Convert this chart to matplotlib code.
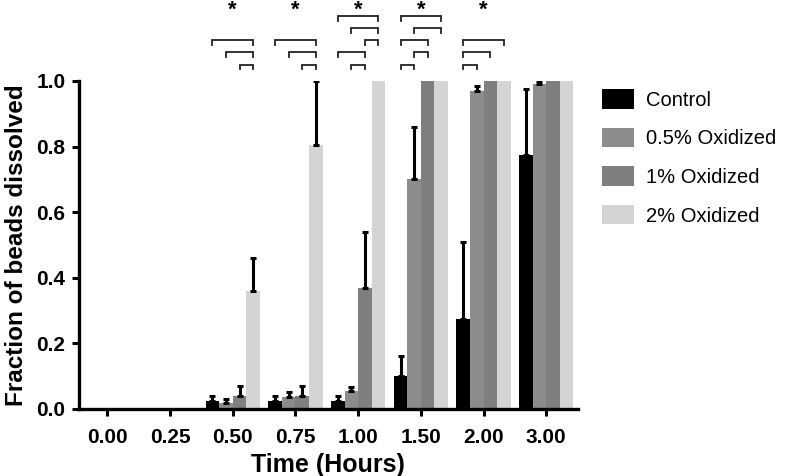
import matplotlib
matplotlib.use("Agg")
import matplotlib.pyplot as plt
import numpy as np

plt.rcParams['font.family'] = ['Liberation Sans', 'DejaVu Sans']

times = ["0.00", "0.25", "0.50", "0.75", "1.00", "1.50", "2.00", "3.00"]
series = ["Control", "0.5% Oxidized", "1% Oxidized", "2% Oxidized"]
colors = ["#000000", "#8c8c8c", "#7f7f7f", "#d4d4d4"]

control = [0.0, 0.0, 0.025, 0.025, 0.025, 0.10, 0.275, 0.775]
control_err = [0.0, 0.0, 0.015, 0.015, 0.015, 0.06, 0.235, 0.20]
ox05 = [0.0, 0.0, 0.018, 0.035, 0.055, 0.70, 0.97, 0.99]
ox05_err = [0.0, 0.0, 0.012, 0.015, 0.012, 0.16, 0.015, 0.01]
ox1 = [0.0, 0.0, 0.04, 0.04, 0.37, 1.0, 1.0, 1.0]
ox1_err = [0.0, 0.0, 0.03, 0.03, 0.17, 0.0, 0.0, 0.0]
ox2 = [0.0, 0.0, 0.36, 0.805, 1.0, 1.0, 1.0, 1.0]
ox2_err = [0.0, 0.0, 0.10, 0.195, 0.0, 0.0, 0.0, 0.0]

values = [control, ox05, ox1, ox2]
errors = [control_err, ox05_err, ox1_err, ox2_err]

# significance brackets: (time index, series a, series b, level)
brackets = [
    (2, 0, 3, 2), (2, 1, 3, 1), (2, 2, 3, 0),
    (3, 0, 3, 2), (3, 1, 3, 1), (3, 2, 3, 0),
    (4, 0, 3, 4), (4, 1, 3, 3), (4, 2, 3, 2), (4, 0, 2, 1), (4, 1, 2, 0),
    (5, 0, 3, 4), (5, 1, 3, 3), (5, 0, 2, 2), (5, 1, 2, 1), (5, 0, 1, 0),
    (6, 0, 3, 2), (6, 0, 2, 1), (6, 0, 1, 0),
]
star_groups = [2, 3, 4, 5, 6]

fig = plt.figure(figsize=(8, 4.76), dpi=100)
ax = fig.add_axes([0.099, 0.141, 0.623, 0.689])

x = np.arange(len(times))
w = 0.216
for k in range(4):
    pos = x + (k - 1.5) * w
    ax.bar(pos, values[k], width=w, color=colors[k], label=series[k], zorder=2)
    errs = np.array(errors[k])
    mask = errs > 0
    ax.errorbar(pos[mask], np.array(values[k])[mask], yerr=[np.zeros(mask.sum()), errs[mask]],
                fmt='none', ecolor='black', elinewidth=2.2, capsize=2.5, capthick=2.2, zorder=3)

ax.set_xlim(-0.45, 7.5)
ax.set_ylim(0, 1.0)
ax.set_xticks(x)
ax.set_xticklabels(times, fontsize=15, fontweight='bold')
ax.set_yticks([0, 0.2, 0.4, 0.6, 0.8, 1.0])
ax.set_yticklabels(["0.0", "0.2", "0.4", "0.6", "0.8", "1.0"], fontsize=15, fontweight='bold')
for s in ['top', 'right']:
    ax.spines[s].set_visible(False)
for s in ['left', 'bottom']:
    ax.spines[s].set_linewidth(2.4)
ax.tick_params(width=2.2, length=5, pad=5)
ax.tick_params(axis='x', pad=9)
ax.set_xlabel("Time (Hours)", fontsize=18, fontweight='bold', labelpad=4)
ax.set_ylabel("Fraction of beads dissolved", fontsize=17.5, fontweight='bold', labelpad=6)

# brackets
base = 1.05
step = 0.037
leg = 0.015
for g, a, b, lvl in brackets:
    xa = x[g] + (a - 1.5) * w
    xb = x[g] + (b - 1.5) * w
    yb = base + lvl * step
    ax.plot([xa, xa, xb, xb], [yb - leg, yb, yb, yb - leg], color='#222222', lw=1.3,
            clip_on=False, solid_joinstyle='miter')
for g in star_groups:
    ax.text(x[g], 1.215, "*", ha='center', va='center', fontsize=16, fontweight='bold',
            clip_on=False)

ax.legend(loc='upper left', bbox_to_anchor=(1.012, 1.03), frameon=False, fontsize=14.5,
          handlelength=1.6, handleheight=1.1, handletextpad=0.6, labelspacing=0.9)

fig.savefig("out.png", dpi=100)
